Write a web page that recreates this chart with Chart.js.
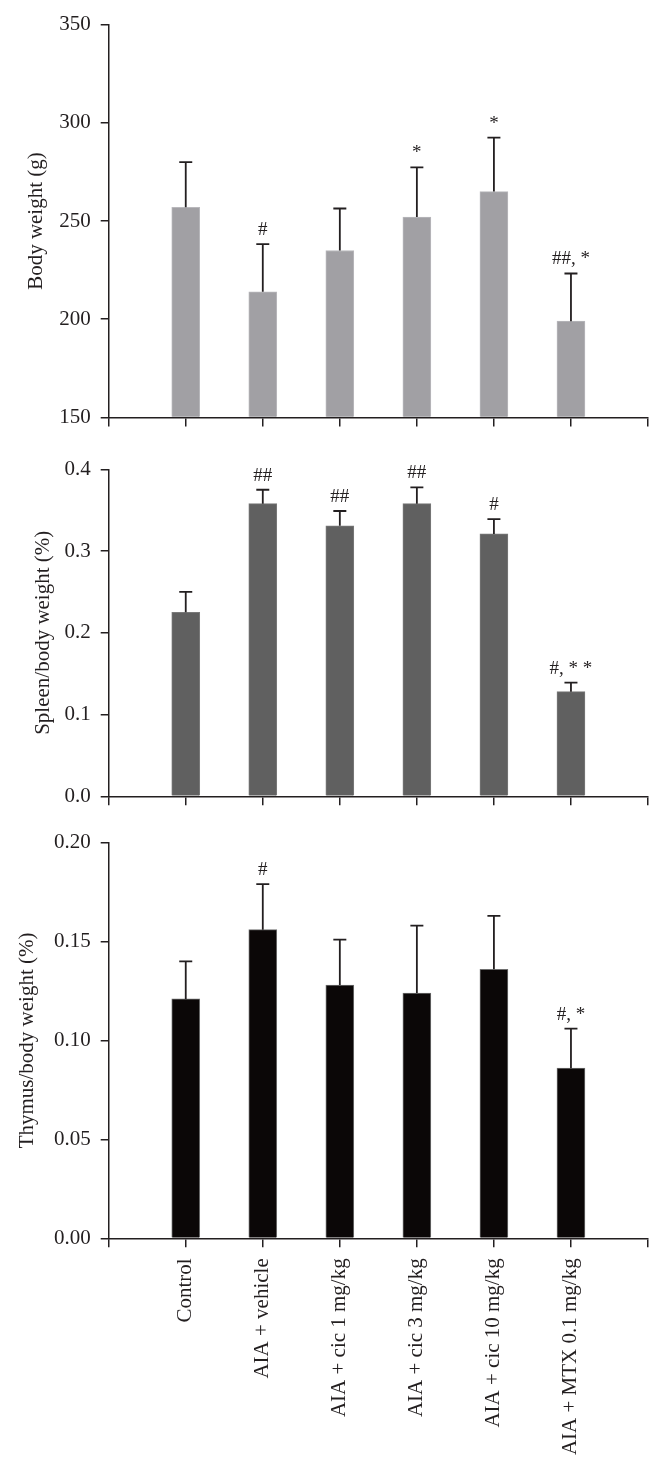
<!DOCTYPE html>
<html><head><meta charset="utf-8">
<script src="https://cdn.jsdelivr.net/npm/chart.js@4.4.1/dist/chart.umd.min.js"></script>
<style>
html,body{margin:0;padding:0;background:#fff;}
#wrap{position:relative;width:665px;height:1472px;overflow:hidden;}
canvas{position:absolute;left:0;display:block;}
</style></head><body>
<div id="wrap">
<canvas id="c1" width="665" height="440" style="top:0px"></canvas>
<canvas id="c2" width="665" height="380" style="top:440px"></canvas>
<canvas id="c3" width="665" height="652" style="top:820px"></canvas>
</div>
<script>
// ---- data ----
const categories = ["Control", "AIA + vehicle", "AIA + cic 1 mg/kg", "AIA + cic 3 mg/kg", "AIA + cic 10 mg/kg", "AIA + MTX 0.1 mg/kg"];

const bodyWeight    = [257, 214, 235, 252, 265, 199];
const bodyWeightErr = [23, 24.2, 21.4, 25.3, 27.5, 24.3];
const bodyMarks     = ["", "#", "", "*", "*", "##, *"];
const bodyTicks     = [150, 200, 250, 300, 350];

const spleen        = [0.225, 0.358, 0.331, 0.358, 0.321, 0.128];
const spleenErr     = [0.025, 0.017, 0.018, 0.020, 0.018, 0.011];
const spleenMarks   = ["", "##", "##", "##", "#", "#, * *"];
const spleenTicks   = [0.0, 0.1, 0.2, 0.3, 0.4];

const thymus        = [0.121, 0.156, 0.128, 0.124, 0.136, 0.086];
const thymusErr     = [0.019, 0.023, 0.023, 0.034, 0.027, 0.020];
const thymusMarks   = ["", "#", "", "", "", "#, *"];
const thymusTicks   = [0.00, 0.05, 0.10, 0.15, 0.20];

const INK = '#231f20';
const FONT = '"Liberation Serif", "DejaVu Serif", serif';

function errPlugin(means, errs, marks) {
  return {
    id: 'errbars',
    afterDatasetsDraw(chart) {
      const ctx = chart.ctx, x = chart.scales.x, y = chart.scales.y;
      ctx.save();
      ctx.strokeStyle = INK;
      ctx.fillStyle = INK;
      ctx.lineWidth = 1.8;
      means.forEach((m, i) => {
        const px = x.getPixelForValue(i + 1);
        const y0 = y.getPixelForValue(m);
        const y1 = y.getPixelForValue(m + errs[i]);
        ctx.beginPath();
        ctx.moveTo(px, y0); ctx.lineTo(px, y1);
        ctx.moveTo(px - 6.5, y1); ctx.lineTo(px + 6.5, y1);
        ctx.stroke();
        if (marks[i]) {
          ctx.font = '19px ' + FONT;
          ctx.textAlign = 'center';
          ctx.textBaseline = 'alphabetic';
          ctx.fillText(marks[i], px, y1 - 9);
        }
      });
      ctx.restore();
    }
  };
}

function makeChart(id, cfg) {
  const f = {family: FONT, size: 21};
  new Chart(document.getElementById(id), {
    type: 'bar',
    data: {
      datasets: [{
        data: cfg.values.map((v, i) => ({x: i + 1, y: v})),
        backgroundColor: cfg.color,
        borderColor: cfg.border,
        borderWidth: 1,
        barThickness: 28,
        base: cfg.ticks[0]
      }]
    },
    options: {
      responsive: false,
      animation: false,
      devicePixelRatio: 1,
      layout: {padding: {top: cfg.top, right: 17, left: 0, bottom: 0}},
      plugins: {legend: {display: false}, tooltip: {enabled: false}},
      scales: {
        x: {
          type: 'linear', min: 0, max: 7, offset: false,
          ticks: {
            stepSize: 1, autoSkip: false,
            minRotation: cfg.showLabels ? 90 : 0, maxRotation: cfg.showLabels ? 90 : 0,
            padding: 11, color: INK, font: f,
            callback: (v) => (cfg.showLabels && v >= 1 && v <= 6) ? categories[v - 1] : ''
          },
          grid: {offset: false, drawOnChartArea: false, drawTicks: true, tickLength: 9, color: INK, lineWidth: 1.5},
          border: {color: INK, width: 1.5},
          afterFit: (s) => { s.height = cfg.xh; s.paddingLeft = 0; s.paddingRight = 0; }
        },
        y: {
          min: cfg.ticks[0], max: cfg.ticks[cfg.ticks.length - 1],
          afterBuildTicks: (s) => { s.ticks = cfg.ticks.map(v => ({value: v})); },
          ticks: {
            padding: 10, color: INK, font: f,
            callback: (v) => v.toFixed(cfg.dec)
          },
          grid: {drawOnChartArea: false, drawTicks: true, tickLength: 8, color: INK, lineWidth: 1.5},
          border: {color: INK, width: 1.5},
          title: {display: true, text: cfg.title, color: INK, font: f, padding: {top: cfg.tpad, bottom: 0}},
          afterFit: (s) => { s.width = 108.7; }
        }
      }
    },
    plugins: [errPlugin(cfg.values, cfg.errs, cfg.marks)]
  });
}

makeChart('c1', {values: bodyWeight, errs: bodyWeightErr, marks: bodyMarks, ticks: bodyTicks, dec: 0,
  title: 'Body weight (g)', color: '#a1a0a4', border: '#b9b8bc', top: 24.7, xh: 19.3, tpad: 23.4, showLabels: false});
makeChart('c2', {values: spleen, errs: spleenErr, marks: spleenMarks, ticks: spleenTicks, dec: 1,
  title: 'Spleen/body weight (%)', color: '#606060', border: '#7a7a7a', top: 29.3, xh: 23.7, tpad: 30.4, showLabels: false});
makeChart('c3', {values: thymus, errs: thymusErr, marks: thymusMarks, ticks: thymusTicks, dec: 2,
  title: 'Thymus/body weight (%)', color: '#0b0707', border: '#6e6e6e', top: 20.7, xh: 233.7, tpad: 14.9, showLabels: true});
</script>
</body></html>
